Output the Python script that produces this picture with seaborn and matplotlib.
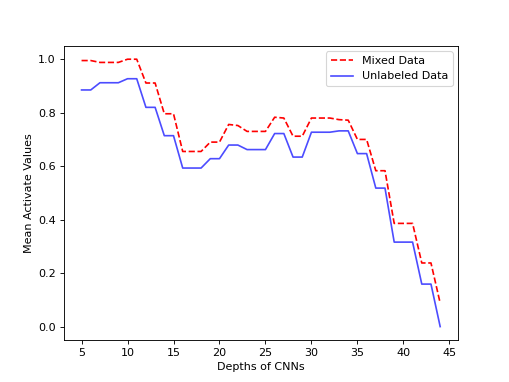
import pandas as pd
import matplotlib
matplotlib.use("Agg")
import matplotlib.pyplot as plt
import seaborn as sns

depths = list(range(5, 45))

mixed = [0.995, 0.995, 0.988, 0.988, 0.988, 1.0, 1.0, 0.911, 0.911, 0.796,
         0.796, 0.655, 0.655, 0.655, 0.69, 0.69, 0.756, 0.752, 0.73, 0.73,
         0.73, 0.783, 0.78, 0.712, 0.712, 0.78, 0.78, 0.78, 0.774, 0.772,
         0.70, 0.70, 0.583, 0.583, 0.386, 0.386, 0.386, 0.238, 0.238, 0.088]

unlabeled = [0.885, 0.885, 0.912, 0.912, 0.912, 0.927, 0.927, 0.82, 0.82, 0.714,
             0.714, 0.593, 0.593, 0.593, 0.628, 0.628, 0.679, 0.679, 0.662, 0.662,
             0.662, 0.722, 0.722, 0.634, 0.634, 0.727, 0.727, 0.727, 0.732, 0.732,
             0.647, 0.647, 0.518, 0.518, 0.316, 0.316, 0.316, 0.159, 0.159, 0.0]

df = pd.DataFrame({"depth": depths, "mixed": mixed, "unlabeled": unlabeled})

fig, ax = plt.subplots(figsize=(509 / 80, 382 / 80), dpi=80)

sns.lineplot(data=df, x="depth", y="mixed", ax=ax, color="red",
             linestyle="--", label="Mixed Data")
sns.lineplot(data=df, x="depth", y="unlabeled", ax=ax, color="blue",
             alpha=0.7, label="Unlabeled Data")

ax.set_xticks([5, 10, 15, 20, 25, 30, 35, 40, 45])
ax.set_xlabel("Depths of CNNs")
ax.set_ylabel("Mean Activate Values")
ax.legend(loc="upper right")

fig.savefig("out.png", dpi=80)
